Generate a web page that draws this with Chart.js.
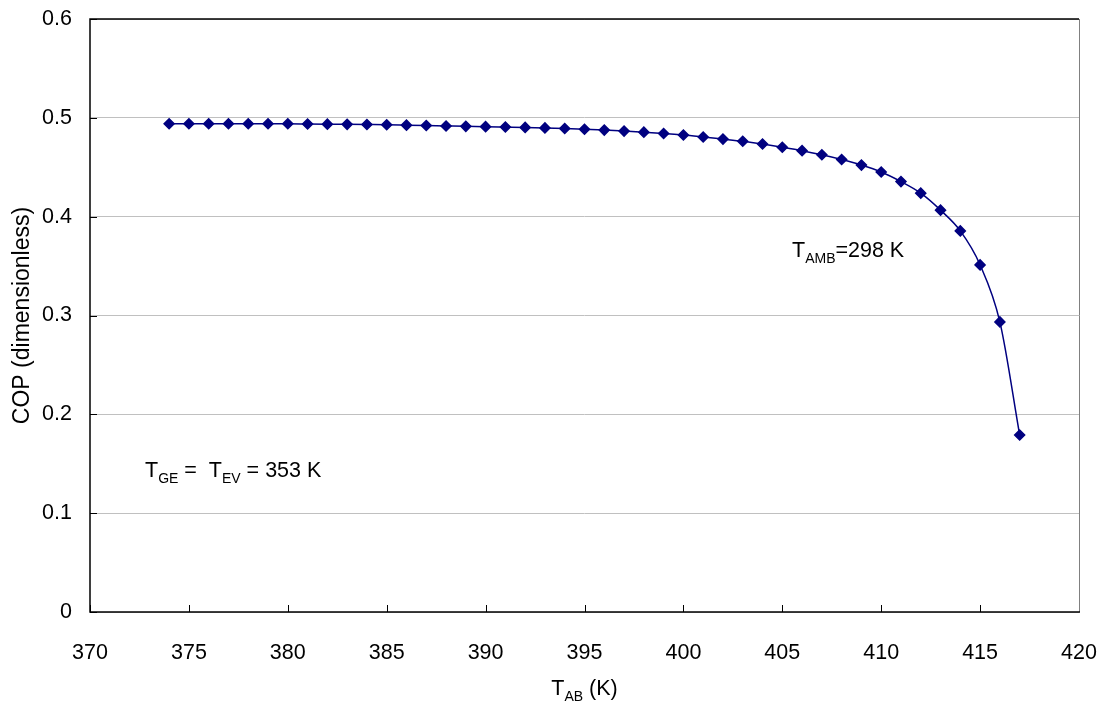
<!DOCTYPE html>
<html>
<head>
<meta charset="utf-8">
<script src="https://cdn.jsdelivr.net/npm/chart.js@4.4.1/dist/chart.umd.min.js"></script>
<style>
  html, body { margin: 0; padding: 0; background: #fff; }
  #wrap { width: 1107px; height: 704px; }
</style>
</head>
<body>
<div id="wrap"><canvas id="copChart"></canvas></div>
<script>
// absorber temperature (K) and COP
const tAb = [374, 375, 376, 377, 378, 379, 380, 381, 382, 383, 384, 385, 386, 387, 388, 389,
  390, 391, 392, 393, 394, 395, 396, 397, 398, 399, 400, 401, 402, 403, 404, 405,
  406, 407, 408, 409, 410, 411, 412, 413, 414, 415, 416, 417];
const cop = [0.494, 0.494, 0.494, 0.494, 0.494, 0.494, 0.494, 0.4938, 0.4936, 0.4934, 0.4932, 0.493, 0.4926, 0.4922, 0.4918, 0.4914,
  0.4911, 0.4907, 0.4903, 0.4898, 0.4892, 0.4884, 0.4876, 0.4866, 0.4855, 0.4842, 0.4826, 0.4806, 0.4785, 0.4763, 0.4735, 0.4703,
  0.4668, 0.4626, 0.4578, 0.4522, 0.4452, 0.4355, 0.4238, 0.4066, 0.3856, 0.3512, 0.2935, 0.1791];
const xTicks = [370, 375, 380, 385, 390, 395, 400, 405, 410, 415, 420];
const yTicks = [0, 0.1, 0.2, 0.3, 0.4, 0.5, 0.6];

const FONT = "'Liberation Sans', Arial, sans-serif";
const FS = 21.5;

// text with subscripts: parts = [[text, isSub], ...]
function drawSubText(ctx, parts, x, y, size, align) {
  const subSize = Math.round(size * 0.66);
  let total = 0;
  parts.forEach(([t, sub]) => {
    ctx.font = (sub ? subSize : size) + "px " + FONT;
    total += ctx.measureText(t).width;
  });
  let cx = align === "center" ? x - total / 2 : x;
  parts.forEach(([t, sub]) => {
    ctx.font = (sub ? subSize : size) + "px " + FONT;
    ctx.fillText(t, cx, sub ? y + 5.5 : y);
    cx += ctx.measureText(t).width;
  });
}

const decor = {
  id: "decor",
  afterDraw(chart) {
    const { ctx, chartArea: a, scales } = chart;
    ctx.save();
    // inward ticks
    ctx.strokeStyle = "#000";
    ctx.lineWidth = 1;
    ctx.beginPath();
    xTicks.forEach((v) => {
      const px = Math.round(scales.x.getPixelForValue(v)) + 0.5;
      ctx.moveTo(px, a.bottom);
      ctx.lineTo(px, a.bottom - 7);
    });
    yTicks.forEach((v) => {
      const py = Math.round(scales.y.getPixelForValue(v)) + 0.5;
      ctx.moveTo(a.left, py);
      ctx.lineTo(a.left + 7, py);
    });
    ctx.stroke();
    // frame
    ctx.strokeStyle = "#808080";
    ctx.beginPath();
    ctx.moveTo(a.right + 0.5, a.top);
    ctx.lineTo(a.right + 0.5, a.bottom);
    ctx.stroke();
    ctx.strokeStyle = "#000";
    ctx.lineWidth = 1.5;
    ctx.beginPath();
    ctx.moveTo(a.right, a.top);
    ctx.lineTo(a.left, a.top);
    ctx.lineTo(a.left, a.bottom);
    ctx.lineTo(a.right + 1, a.bottom);
    ctx.stroke();

    ctx.fillStyle = "#000";
    ctx.textBaseline = "alphabetic";
    ctx.textAlign = "left";
    drawSubText(ctx, [["T", false], ["AMB", true], ["=298 K", false]], 792, 257, FS);
    drawSubText(ctx, [["T", false], ["GE", true], [" =  T", false], ["EV", true], [" = 353 K", false]], 145, 477, FS);
    drawSubText(ctx, [["T", false], ["AB", true], [" (K)", false]], (a.left + a.right) / 2, 695, FS, "center");
    ctx.restore();
  }
};

new Chart(document.getElementById("copChart"), {
  type: "line",
  data: {
    labels: tAb,
    datasets: [{
      data: tAb.map((t, i) => ({ x: t, y: cop[i] })),
      borderColor: "#000080",
      backgroundColor: "#000080",
      borderWidth: 1.5,
      pointStyle: "rectRot",
      pointRadius: 5,
      pointHoverRadius: 5,
      cubicInterpolationMode: "monotone",
      fill: false
    }]
  },
  options: {
    responsive: true,
    maintainAspectRatio: false,
    animation: false,
    layout: { padding: { left: 0, right: 28, top: 19, bottom: 0 } },
    plugins: { legend: { display: false }, tooltip: { enabled: false } },
    scales: {
      x: {
        type: "linear",
        min: 370,
        max: 420,
        afterBuildTicks: (s) => { s.ticks = xTicks.map((v) => ({ value: v })); },
        afterFit: (s) => { s.height = 92; s.paddingLeft = 0; s.paddingRight = 0; },
        grid: { display: false },
        border: { display: false },
        ticks: { color: "#000", font: { family: FONT, size: FS }, padding: 20, maxRotation: 0 }
      },
      y: {
        min: 0,
        max: 0.6,
        afterBuildTicks: (s) => { s.ticks = yTicks.map((v) => ({ value: v })); },
        afterFit: (s) => { s.width = 90; s.paddingTop = 0; s.paddingBottom = 0; },
        grid: { color: "#c0c0c0", lineWidth: 1, drawTicks: false },
        border: { display: false },
        ticks: {
          color: "#000",
          font: { family: FONT, size: FS },
          padding: 18,
          callback: (v) => (v === 0 ? "0" : v.toFixed(1))
        },
        title: {
          display: true,
          text: "COP (dimensionless)",
          color: "#000",
          font: { family: FONT, size: 23 },
          padding: { top: 9, bottom: 0 }
        }
      }
    }
  },
  plugins: [decor]
});
</script>
</body>
</html>
